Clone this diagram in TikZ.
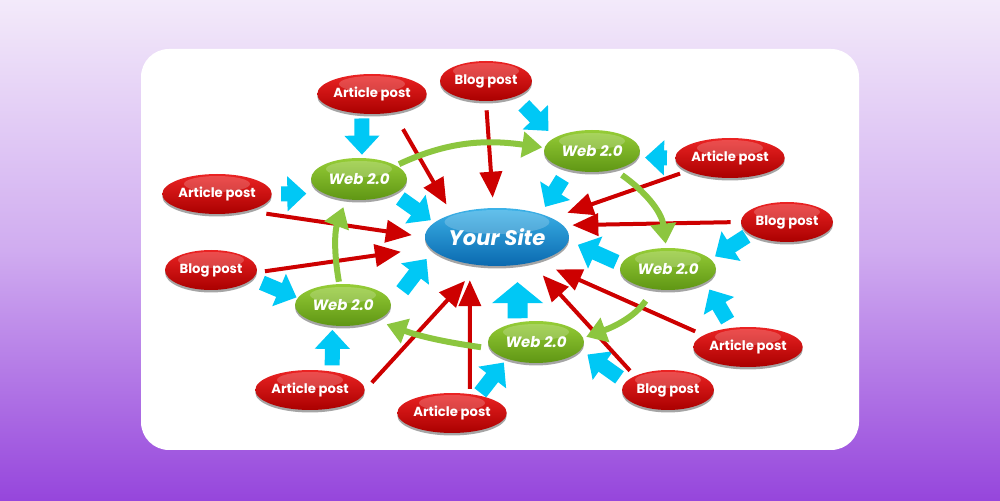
\documentclass[tikz,border=0pt]{standalone}
\usepackage{fontspec}
\newfontfamily\labelfont{Poppins}
\usetikzlibrary{arrows.meta,shapes.geometric,shadows}

\definecolor{bgtop}{RGB}{243,234,250}
\definecolor{bgmid}{RGB}{208,172,240}
\definecolor{bgbot}{RGB}{150,70,220}
\definecolor{posttop}{RGB}{235,35,35}
\definecolor{postbot}{RGB}{170,0,0}
\definecolor{webtop}{RGB}{150,205,55}
\definecolor{webbot}{RGB}{95,150,20}
\definecolor{sitetop}{RGB}{60,178,232}
\definecolor{sitebot}{RGB}{10,105,175}
\definecolor{linkred}{RGB}{205,0,0}
\definecolor{pushblue}{RGB}{0,200,245}
\definecolor{chaingreen}{RGB}{140,198,63}

\tikzset{
  gloss/.style 2 args={
    path picture={
      \fill[white,opacity=0.2]
        ([yshift=#2]path picture bounding box.center)
        ellipse [x radius=#1, y radius=0.8*#2];
    },
  },
}
\tikzstyle{post} = [
  ellipse,
  minimum width=1.84cm,
  minimum height=0.8cm,
  inner sep=0pt,
  top color=posttop,
  bottom color=postbot,
  gloss={0.66cm}{0.2cm},
  drop shadow={shadow xshift=0cm, shadow yshift=-0.05cm, fill=black!70},
  text=white,
  font=\labelfont\bfseries\fontsize{7.5}{9}\selectfont,
]
\tikzstyle{web} = [
  post,
  minimum width=1.92cm,
  minimum height=0.84cm,
  top color=webtop,
  bottom color=webbot,
  font=\labelfont\bfseries\itshape\fontsize{8.5}{10}\selectfont,
]
\tikzstyle{site} = [
  post,
  minimum width=2.88cm,
  minimum height=1.16cm,
  top color=sitetop,
  bottom color=sitebot,
  gloss={1.05cm}{0.3cm},
  font=\labelfont\bfseries\itshape\fontsize{12}{14}\selectfont,
]
\tikzstyle{link} = [
  linkred,
  line width=0.08cm,
  -{Triangle[length=0.52cm,width=0.44cm]},
]
\tikzstyle{push} = [
  pushblue,
  line width=0.3cm,
  -{Triangle[length=0.38cm,width=0.68cm]},
]
\tikzstyle{chain} = [
  chaingreen,
  line width=0.12cm,
  -{Triangle[length=0.4cm,width=0.5cm]},
]

\begin{document}
\begin{tikzpicture}[
    x=0.02cm,
    y=0.02cm,
  ]
  \useasboundingbox (0,0) rectangle (1000,500);
  \shade[top color=bgtop, bottom color=bgbot, middle color=bgmid]
    (0,0) rectangle (1000,500);
  \fill[white, rounded corners=0.56cm] (141,50) rectangle (859,451);

  % the site in the middle
  \node[site] (site) at (497,263) {Your Site};

  % web 2.0 ring
  \node[web] (web1) at (359,321) {Web 2.0};
  \node[web] (web2) at (592,349) {Web 2.0};
  \node[web] (webR) at (668,231) {Web 2.0};
  \node[web] (webB) at (536,158) {Web 2.0};
  \node[web] (webL) at (343,195) {Web 2.0};

  % posts
  \node[post] (art1) at (372,406) {Article post};
  \node[post] (blogT) at (486,419) {Blog post};
  \node[post] (artRT) at (730,342) {Article post};
  \node[post] (blogR) at (787,278) {Blog post};
  \node[post] (artRB) at (748,153) {Article post};
  \node[post] (blogBR) at (668,110) {Blog post};
  \node[post] (artB) at (452,87) {Article post};
  \node[post] (artBL) at (310,110) {Article post};
  \node[post] (blogL) at (211,230) {Blog post};
  \node[post] (artL) at (217,306) {Article post};

  % blue arrows
  \draw[push, shorten <=0.09cm, shorten >=0.06cm] (art1.-117) -- (web1.82);
  \draw[push, shorten <=0.18cm, shorten >=0.34cm] (artL.east) -- (web1.202);
  \draw[push, shorten <=0.16cm, shorten >=0.08cm] (web1.-23) -- (site.167);
  \draw[push, shorten <=0.24cm, shorten >=0.18cm] (blogT.-28) -- (web2.160);
  \draw[push, shorten <=0.22cm, shorten >=0.16cm] (web2.218) -- (site.28);
  \draw[push, shorten <=0.16cm, shorten >=0.14cm] (artRT.west) -- (web2.-8);
  \draw[push, shorten <=0.08cm, shorten >=0.1cm] (blogR.198) -- (webR.13);
  \draw[push, shorten <=0.1cm, shorten >=0.2cm] (webR.174) -- (site.-3);
  \draw[push, shorten <=0.16cm, shorten >=0.16cm] (artRB.130) -- (webR.-20);
  \draw[push, shorten <=0.15cm, shorten >=0.16cm] (blogBR.169) -- (webB.-10);
  \draw[push, line width=0.4cm, -{Triangle[length=0.42cm,width=1cm]},
    shorten <=0.08cm, shorten >=0.34cm] (webB.133) -- (site.-54);
  \draw[push, shorten <=0.06cm, shorten >=0.09cm] (artB.34) -- (webB.210);
  \draw[push, shorten <=0.12cm, shorten >=0.08cm] (artBL.40) -- (webL.243);
  \draw[push, shorten <=0.2cm, shorten >=0.02cm] (blogL.-12) -- (webL.171);
  \draw[push, shorten <=0.36cm, shorten >=0.21cm] (webL.east) -- (site.192);

  % red arrows
  \draw[link, shorten <=0.38cm, shorten >=0.22cm] (art1.-41) -- (site.153);
  \draw[link, shorten <=0.18cm, shorten >=0.2cm] (blogT.south) -- (site.97);
  \draw[link, shorten <=0.38cm, shorten >=0.26cm] (artL.-29) -- (site.west);
  \draw[link, shorten <=0.16cm, shorten >=0.58cm] (blogL.-3) -- (site.189);
  \draw[link, shorten <=0.2cm, shorten >=0.42cm] (artBL.east) -- (site.238);
  \draw[link, shorten <=0.1cm, shorten >=0.32cm] (artB.47) -- (site.225);
  \draw[link, shorten <=0.14cm, shorten >=0.34cm] (blogBR.157) -- (site.-37);
  \draw[link, shorten <=0.18cm, shorten >=0.4cm] (artRB.165) -- (site.-31);
  \draw[link, shorten <=0.2cm, shorten >=0.18cm] (blogR.west) -- (site.10);
  \draw[link, shorten <=0.16cm, shorten >=0.32cm] (artRT.197) -- (site.19);

  % green ring
  \draw[chain, shorten <=0.06cm, shorten >=0.04cm]
    (web1.20) to[out=25, in=172] (web2.176);
  \draw[chain, shorten <=0.18cm, shorten >=0.08cm]
    (web2.-40) to[out=-35, in=97] (webR.95);
  \draw[chain, shorten <=0.28cm, shorten >=0.06cm]
    (webR.235) to[out=235, in=20] (webB.5);
  \draw[chain, shorten <=0.18cm, shorten >=0.22cm]
    (webB.188) to[out=172, in=-20] (webL.-25);
  \draw[chain, shorten <=0.04cm, shorten >=0.16cm]
    (webL.100) to[out=100, in=250] (web1.238);
\end{tikzpicture}
\end{document}
